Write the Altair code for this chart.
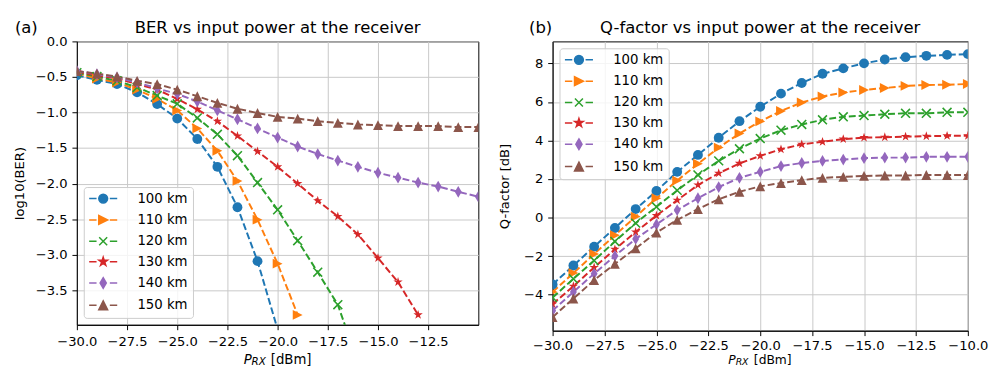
import altair as alt
import pandas as pd

FONT = "DejaVu Sans"

P_RX = [-30, -29, -28, -27, -26, -25, -24, -23, -22, -21, -20,
        -19, -18, -17, -16, -15, -14, -13, -12, -11, -10]

series = ["100 km", "110 km", "120 km", "130 km", "140 km", "150 km"]
colors = ["#1f77b4", "#ff7f0e", "#2ca02c", "#d62728", "#9467bd", "#8c564b"]

# log10(BER) per distance (None = BER not measurable / below range)
ber_100 = [-0.476, -0.541, -0.600, -0.716, -0.882, -1.085, -1.372, -1.764, -2.332, -3.09, -4.05,
           None, None, None, None, None, None, None, None, None, None]
ber_110 = [-0.448, -0.522, -0.578, -0.679, -0.808, -0.970, -1.224, -1.538, -1.962, -2.507, -3.126,
           -3.846, None, None, None, None, None, None, None, None, None]
ber_120 = [-0.439, -0.494, -0.554, -0.647, -0.762, -0.877, -1.076, -1.307, -1.607, -1.985, -2.368,
           -2.803, -3.246, -3.703, -4.51, None, None, None, None, None, None]
ber_130 = [-0.430, -0.476, -0.522, -0.600, -0.679, -0.808, -0.956, -1.122, -1.330, -1.547, -1.764,
           -2.000, -2.240, -2.461, -2.715, -3.047, -3.384, -3.846, None, None, None]
ber_140 = [-0.416, -0.462, -0.508, -0.578, -0.661, -0.739, -0.845, -0.970, -1.095, -1.224, -1.353,
           -1.478, -1.584, -1.676, -1.764, -1.847, -1.916, -1.985, -2.041, -2.115, -2.184]
ber_150 = [-0.416, -0.453, -0.494, -0.554, -0.600, -0.679, -0.771, -0.864, -0.947, -1.007, -1.062,
           -1.085, -1.122, -1.145, -1.168, -1.177, -1.191, -1.191, -1.191, -1.205, -1.205]

# Q-factor [dB] per distance
q_100 = [-3.47, -2.49, -1.51, -0.54, 0.44, 1.38, 2.37, 3.25, 4.14, 5.00, 5.75,
         6.43, 6.98, 7.46, 7.74, 8.00, 8.20, 8.32, 8.39, 8.44, 8.48]
q_110 = [-3.86, -2.88, -1.89, -0.92, 0.05, 1.00, 1.92, 2.79, 3.63, 4.36, 4.99,
         5.53, 5.97, 6.28, 6.49, 6.62, 6.72, 6.83, 6.88, 6.89, 6.93]
q_120 = [-4.15, -3.18, -2.23, -1.24, -0.29, 0.56, 1.41, 2.21, 2.94, 3.57, 4.10,
         4.53, 4.83, 5.07, 5.23, 5.29, 5.36, 5.41, 5.41, 5.46, 5.46]
q_130 = [-4.49, -3.56, -2.59, -1.65, -0.75, 0.10, 0.90, 1.69, 2.30, 2.81, 3.20,
         3.54, 3.80, 3.93, 4.07, 4.15, 4.17, 4.20, 4.22, 4.24, 4.24]
q_140 = [-4.83, -3.86, -2.91, -1.99, -1.11, -0.36, 0.39, 1.00, 1.58, 2.06, 2.37,
         2.67, 2.83, 2.94, 3.01, 3.08, 3.11, 3.11, 3.15, 3.15, 3.15]
q_150 = [-5.17, -4.20, -3.25, -2.40, -1.60, -0.78, -0.12, 0.44, 0.95, 1.34, 1.62,
         1.79, 1.94, 2.06, 2.11, 2.16, 2.18, 2.18, 2.21, 2.21, 2.21]

ber_ticks_x = [-30.0, -27.5, -25.0, -22.5, -20.0, -17.5, -15.0, -12.5]
q_ticks_x = [-30.0, -27.5, -25.0, -22.5, -20.0, -17.5, -15.0, -12.5, -10.0]
ber_ticks_y = [0.0, -0.5, -1.0, -1.5, -2.0, -2.5, -3.0, -3.5]
q_ticks_y = [-4, -2, 0, 2, 4, 6, 8]

# marker shapes (matplotlib o > x * d ^)
STAR = ("M0,-1L0.225,-0.309L0.951,-0.309L0.363,0.118L0.588,0.809L0,0.382"
        "L-0.588,0.809L-0.363,0.118L-0.951,-0.309L-0.225,-0.309Z")
plot_shapes = [
    "circle",
    "M1,0L-1,-1L-1,1Z",
    "M-0.9,-0.9L0.9,0.9M-0.9,0.9L0.9,-0.9",
    STAR,
    "M0,-1.2L0.7,0L0,1.2L-0.7,0Z",
    "M0,-1L1,1L-1,1Z",
]
plot_filled = [True, True, False, True, True, True]


def scale_path(path, k):
    out = []
    num = ""
    for ch in path:
        if ch.isdigit() or ch in ".-":
            if ch == "-" and num:
                out.append(str(round(float(num) * k, 3)))
                num = ""
            num += ch
        else:
            if num:
                out.append(str(round(float(num) * k, 3)))
                num = ""
            out.append(ch)
    if num:
        out.append(str(round(float(num) * k, 3)))
    return "".join(out)


DASHES = "M-2.85,0L-1.35,0M1.35,0L2.85,0"
CIRCLE = "M0.9,0A0.9,0.9,0,1,1,-0.9,0A0.9,0.9,0,1,1,0.9,0Z"
legend_shapes = [DASHES + CIRCLE] + [DASHES + scale_path(p, 0.9) for p in plot_shapes[1:]]


def text_layer(text, x, y, size, align="left", italic=False):
    return alt.Chart(pd.DataFrame({"t": [text]})).mark_text(
        align=align, baseline="alphabetic", fontSize=size, font=FONT,
        fontStyle="italic" if italic else "normal", color="black"
    ).encode(x=alt.value(x), y=alt.value(y), text="t:N")


def panel(ys_list, width, height, xdom, xticks, xlabpad, ydom, yticks, yfmt, ytitle, ytpad,
          letter, letter_x, title, legend_orient, xt):
    X = alt.X("P:Q", scale=alt.Scale(domain=xdom, nice=False, zero=False),
              axis=alt.Axis(values=xticks, format=".1f", title=None, labelPadding=xlabpad))
    Y = alt.Y("v:Q", scale=alt.Scale(domain=ydom, nice=False, zero=False),
              axis=alt.Axis(values=yticks, format=yfmt, title=ytitle, titlePadding=ytpad))
    layers = []
    for name, ys, color in zip(series, ys_list, colors):
        df = pd.DataFrame({"P": P_RX, "v": ys})
        layers.append(alt.Chart(df).mark_line(
            color=color, strokeWidth=2, strokeDash=[7, 3], clip=True
        ).encode(x=X, y=Y))
    for name, ys, color, shp, filled in zip(series, ys_list, colors, plot_shapes, plot_filled):
        df = pd.DataFrame({"P": P_RX, "v": ys})
        if filled:
            mk = alt.Chart(df).mark_point(shape=shp, filled=True, color=color, size=100,
                                          opacity=1, clip=True)
        else:
            mk = alt.Chart(df).mark_point(shape=shp, filled=False, color=color, size=100,
                                          strokeWidth=1.6, opacity=1, clip=True)
        layers.append(mk.encode(x=X, y=Y))

    leg = alt.Legend(title=None, orient=legend_orient, offset=7, padding=5,
                     labelFont=FONT, labelFontSize=13.5, labelColor="black",
                     symbolSize=100, symbolStrokeWidth=1.5, symbolOpacity=1,
                     symbolOffset=8, labelOffset=28, rowPadding=5.7,
                     strokeColor="#cccccc", fillColor="rgba(255,255,255,0.8)",
                     cornerRadius=3)
    leg_df = pd.DataFrame({"series": series})
    layers.append(alt.Chart(leg_df).mark_point(filled=True, opacity=1, clip=True,
                                               strokeWidth=1.5).encode(
        x=alt.value(0), y=alt.value(-1000),
        fill=alt.Fill("series:N", scale=alt.Scale(domain=series, range=colors), legend=leg),
        stroke=alt.Stroke("series:N", scale=alt.Scale(domain=series, range=colors), legend=leg),
        shape=alt.Shape("series:N", scale=alt.Scale(domain=series, range=legend_shapes), legend=leg),
    ))

    layers.append(text_layer(title, width / 2, -8.7, 16.7, align="center"))
    layers.append(text_layer(letter, letter_x, -8.7, 16.7))
    x0, dy, fs, fss, sdx, ddx = xt
    layers.append(text_layer("P", x0, height + dy, fs, italic=True))
    layers.append(text_layer("RX", x0 + sdx, height + dy + 1.2, fss, italic=True))
    layers.append(text_layer("[dBm]", x0 + ddx, height + dy, fs))
    return alt.layer(*layers).properties(width=width, height=height)


left = panel([ber_100, ber_110, ber_120, ber_130, ber_140, ber_150],
             408, 288, [-30, -10], ber_ticks_x, 5, [-3.985, 0], ber_ticks_y, ".1f",
             "log10(BER)", 8.5, "(a)", -63, "BER vs input power at the receiver",
             "bottom-left", (169.5, 40, 13.5, 10.5, 8, 27.5))
right = panel([q_100, q_110, q_120, q_130, q_140, q_150],
              422, 294, [-30, -10], q_ticks_x, 3.5, [-5.87, 9.14], q_ticks_y, "d",
              "Q-factor [dB]", 12.5, "(b)", -24, "Q-factor vs input power at the receiver",
              "top-left", (178.5, 33.9, 12.5, 9.5, 7.5, 26))

chart = alt.hconcat(left, right, spacing=17.5).resolve_scale(
    fill="independent", stroke="independent", shape="independent"
).resolve_legend(
    fill="independent", stroke="independent", shape="independent"
).properties(
    padding={"left": 4, "top": 8, "right": 0, "bottom": -3}
).configure_view(
    stroke="black", strokeWidth=1
).configure_axis(
    domainColor="black", domainWidth=1, tickColor="black", tickWidth=1, tickSize=5,
    labelPadding=5, labelFont=FONT, labelFontSize=13.3, labelColor="black",
    labelFlush=False, labelOverlap=False,
    titleFont=FONT, titleFontSize=13.3, titleFontWeight="normal", titleColor="black",
    grid=True, gridColor="#c8c8c8", gridWidth=1
)

chart.save("out.html", embed_options={"renderer": "svg", "actions": False})
